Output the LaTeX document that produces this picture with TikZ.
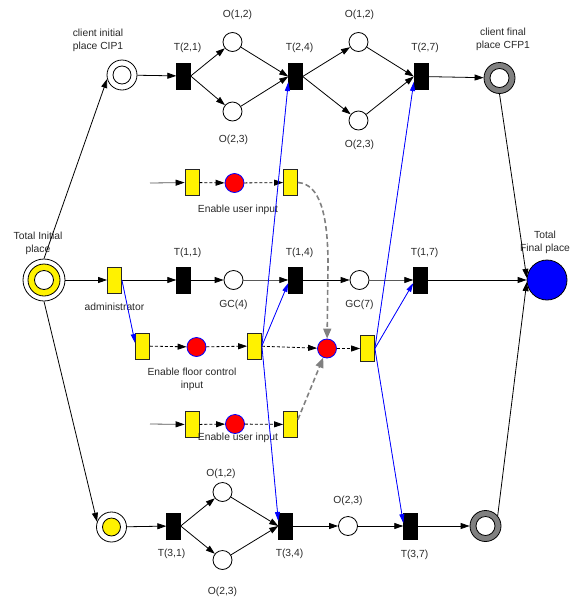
\documentclass[tikz,border=0pt]{standalone}
\usepackage{fontspec}
\setmainfont{Liberation Sans}
\usetikzlibrary{arrows.meta}
\definecolor{ringgray}{RGB}{128,128,128}
\definecolor{txt}{RGB}{40,40,40}
\begin{document}
\begin{tikzpicture}[x=1pt,y=-1pt,
  trans/.style={rectangle, fill=black, draw=black, minimum width=14pt, minimum height=26pt, inner sep=0pt},
  ytrans/.style={rectangle, fill=yellow, draw=black!85, line width=0.8pt, minimum width=14pt, minimum height=26pt, inner sep=0pt},
  place/.style={circle, draw=black, fill=white, minimum size=19pt, inner sep=0pt, line width=0.8pt},
  redplace/.style={circle, draw=blue, fill=red, minimum size=19pt, inner sep=0pt, line width=0.8pt},
  lbl/.style={font=\fontsize{10.3}{13}\selectfont, text=txt, align=center, inner sep=0pt},
  arr/.style={-{Triangle[length=9pt,width=6pt]}, line width=0.8pt, draw=black},
  garr2/.style={-{Triangle[length=9pt,width=6pt,color=black]}, line width=0.8pt, draw=black!65},
  barr/.style={-{Triangle[length=9pt,width=5pt]}, line width=0.8pt, draw=blue, fill=blue},
  darr/.style={arr, dash pattern=on 3pt off 2pt},
  gdarr/.style={-{Triangle[length=10pt,width=8pt]}, line width=1.6pt, draw=ringgray, dash pattern=on 5pt off 3pt}
]
\useasboundingbox (0,0) rectangle (571,600);

% ---------- row 1 ----------
\node[place, minimum size=30pt] (cip) at (122,75) {};
\node[place, minimum size=18pt] (cipin) at (122,75) {};
\node[lbl] (lcip) at (98,40.5) {client initial\\place CIP1};
\node[trans] (t21) at (183.5,76) {};
\node[lbl] (lt21) at (187.5,48) {T(2,1)};
\node[place] (o12a) at (232.5,42) {};
\node[lbl] (lo12a) at (237.5,15) {O(1,2)};
\node[place] (o23a) at (232.5,111.5) {};
\node[lbl] (lo23a) at (233.5,140) {O(2,3)};
\node[trans] (t24) at (295.5,76.5) {};
\node[lbl] (lt24) at (299.5,48) {T(2,4)};
\node[place] (o12b) at (358.5,42) {};
\node[lbl] (lo12b) at (359.5,15) {O(1,2)};
\node[place] (o23b) at (358.5,120.5) {};
\node[lbl] (lo23b) at (359.5,145) {O(2,3)};
\node[trans] (t27) at (421,76.5) {};
\node[lbl] (lt27) at (425,48) {T(2,7)};
\node[place, fill=ringgray, minimum size=31pt] (cfp) at (499.5,78) {};
\node[place, minimum size=19pt] (cfpin) at (499.5,78) {};
\node[lbl] (lcfp) at (503,39.5) {client final\\place CFP1};

% ---------- enable user input (top) ----------
\coordinate (s1) at (150,183);
\node[ytrans] (er1) at (192,182.5) {};
\node[redplace] (r1) at (234.5,183) {};
\node[ytrans] (er2) at (290.5,182.5) {};
\node[lbl] (ler) at (238,210) {Enable user input};

% ---------- middle row ----------
\node[place, minimum size=42pt] (ti) at (44,280) {};
\node[place, fill=yellow, minimum size=32pt] (tiy) at (44,280) {};
\node[place, minimum size=19pt] (tiin) at (44,280) {};
\node[lbl] (lti) at (38,243.5) {Total Initial\\place};
\node[ytrans] (adm) at (114.5,280) {};
\node[lbl] (ladm) at (114.5,307) {administrator};
\node[trans] (t11) at (183.5,280) {};
\node[lbl] (lt11) at (187.5,253) {T(1,1)};
\node[place] (gc4) at (233.5,280) {};
\node[lbl] (lgc4) at (233.5,305) {GC(4)};
\node[trans] (t14) at (295.5,280) {};
\node[lbl] (lt14) at (299.5,253) {T(1,4)};
\node[place] (gc7) at (359.5,280) {};
\node[lbl] (lgc7) at (359.5,305) {GC(7)};
\node[trans] (t17) at (420.5,280) {};
\node[lbl] (lt17) at (424.5,253) {T(1,7)};
\node[place, fill=blue, minimum size=40pt] (tf) at (547,280) {};
\node[lbl] (ltf) at (545,242) {Total\\Final place};

% ---------- floor control ----------
\node[ytrans] (fc1) at (142.5,346) {};
\node[redplace] (fc2) at (196.5,347) {};
\node[ytrans] (fc3) at (254.5,346) {};
\node[lbl] (lfc) at (192,379) {Enable floor control\\input};
\node[redplace] (redc) at (327,348.5) {};
\node[ytrans] (fc5) at (367.5,348.5) {};

% ---------- enable user input (bottom) ----------
\coordinate (s2) at (150,424);
\node[ytrans] (eb1) at (192,424.5) {};
\node[redplace] (eb2) at (235,424) {};
\node[ytrans] (eb3) at (290.5,424.5) {};
\node[lbl] (leb) at (238,438) {Enable user input};

% ---------- bottom row ----------
\node[place, minimum size=30pt] (b1) at (111.5,527) {};
\node[place, fill=yellow, minimum size=18pt] (b1in) at (111.5,527) {};
\node[trans] (t31) at (173.5,526) {};
\node[lbl] (lt31) at (171.5,554) {T(3,1)};
\node[place] (o12c) at (222.5,492) {};
\node[lbl] (lo12c) at (221,474) {O(1,2)};
\node[place] (o23c) at (222.5,560) {};
\node[lbl] (lo23c) at (222.5,592) {O(2,3)};
\node[trans] (t34) at (285.5,526) {};
\node[lbl] (lt34) at (289.5,554) {T(3,4)};
\node[place] (o23d) at (348,526) {};
\node[lbl] (lo23d) at (348,501) {O(2,3)};
\node[trans] (t37) at (410.5,526) {};
\node[lbl] (lt37) at (414.5,555) {T(3,7)};
\node[place, fill=ringgray, minimum size=31pt] (rg2) at (485.5,526) {};
\node[place, minimum size=19pt] (rg2in) at (485.5,526) {};

% ---------- black arcs ----------
\draw[arr] (ti.north) -- (cip.195);
\draw[arr] (ti.south) -- (b1.160);
\draw[arr] (ti) -- (adm);
\draw[arr] (cip) -- (t21);
\draw[arr] (t21.east) -- (o12a);
\draw[arr] (t21.east) -- (o23a);
\draw[arr] (o12a) -- (t24.west);
\draw[arr] (o23a) -- (t24.west);
\draw[arr] (t24.east) -- (o12b);
\draw[arr] (t24.east) -- (o23b);
\draw[arr] (o12b) -- (t27.west);
\draw[arr] (o23b) -- (t27.west);
\draw[arr] (t27) -- (cfp);
\draw[arr] (cfp.south) -- (tf.174);
\draw[arr] (rg2.40) -- (tf.186);

\draw[arr] (adm) -- (t11);
\draw[arr] (t11) -- (gc4);
\draw[garr2] (gc4) -- (t14);
\draw[arr] (t14) -- (gc7);
\draw[garr2] (gc7) -- (t17);
\draw[arr] (t17) -- (tf);

\draw[arr] (b1) -- (t31);
\draw[arr] (t31.east) -- (o12c);
\draw[arr] (t31.east) -- (o23c);
\draw[arr] (o12c) -- (t34.west);
\draw[arr] (o23c) -- (t34.west);
\draw[arr] (t34) -- (o23d);
\draw[arr] (o23d) -- (t37);
\draw[arr] (t37) -- (rg2);

% ---------- enable rows ----------
\draw[garr2] (s1) -- (er1);
\draw[darr] (er1) -- (r1);
\draw[darr] (r1) -- (er2);
\draw[garr2] (s2) -- (eb1);
\draw[darr] (eb1) -- (eb2);
\draw[darr] (eb2) -- (eb3);
\draw[darr] (fc1) -- (fc2);
\draw[darr] (fc2) -- (fc3);
\draw[darr] (fc3) -- (redc);
\draw[darr] (redc) -- (fc5);

% ---------- grey dashed ----------
\draw[gdarr] (er2.east) .. controls (320,184) and (328,215) .. (328,265) -- (redc);
\draw[gdarr] ([yshift=5pt]eb3.east) -- (redc);

% ---------- blue arcs ----------
\draw[barr] (adm.east) -- ([yshift=3pt]fc1.west);
\draw[barr] (fc3.east) -- ([yshift=-5.5pt]t24.west);
\draw[barr] (fc3.east) -- ([yshift=-3pt]t14.west);
\draw[barr] (fc3.east) -- ([yshift=5pt]t34.west);
\draw[barr] (fc5.east) -- ([yshift=-5.5pt]t27.west);
\draw[barr] (fc5.east) -- ([yshift=-3pt]t17.west);
\draw[barr] (fc5.east) -- ([yshift=3pt]t37.west);
\end{tikzpicture}
\end{document}
